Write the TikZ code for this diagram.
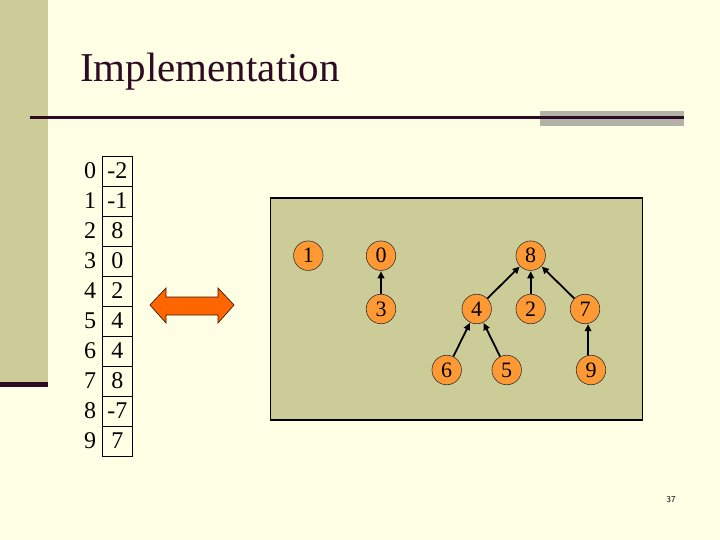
\documentclass[tikz,border=0pt]{standalone}
\usepackage{fontspec}
\setmainfont{Liberation Serif}
\usetikzlibrary{arrows.meta}
\definecolor{bgyel}{HTML}{FFFFE5}
\definecolor{side}{HTML}{CCCC99}
\definecolor{dark}{HTML}{2E0A24}
\definecolor{grayb}{HTML}{B2B2A8}
\definecolor{orangeA}{HTML}{FF6600}
\definecolor{orangeN}{HTML}{FF9933}
\tikzset{
  treenode/.style={circle,draw=black!80,line width=0.6pt,fill=orangeN,minimum size=29.5pt,inner sep=0pt,font=\fontsize{22}{22}\selectfont},
  cellbox/.style={draw=black,line width=0.8pt,minimum width=30pt,minimum height=30pt,inner sep=0pt,font=\fontsize{24}{24}\selectfont},
  idx/.style={inner sep=0pt,font=\fontsize{24}{24}\selectfont},
  parentarr/.style={-{Triangle[length=7pt,width=6.5pt]},line width=1.8pt,black,shorten >=0.5pt}
}
\begin{document}
\begin{tikzpicture}[x=1pt,y=-1pt]
\useasboundingbox (0,0) rectangle (720,540);
\fill[bgyel] (0,0) rectangle (720,540);
\fill[side] (0,0) rectangle (48,382);
\fill[dark] (0,382) rectangle (48,387);
\fill[grayb] (540,111) rectangle (684,126.5);
\fill[dark] (30,116) rectangle (684,119);
\node[anchor=base west,inner sep=0pt,text=dark,font=\fontsize{41}{41}\selectfont] (title) at (80,82) {Implementation};
% array
\foreach \i/\v in {0/-2,1/-1,2/8,3/0,4/2,5/4,6/4,7/8,8/-7,9/7}{
  \node[cellbox] (c\i) at (117.3,171+30*\i) {\v};
  \node[idx] (i\i) at (90,171+30*\i) {\i};
}
% double arrow
\filldraw[fill=orangeA,draw=black!75!orangeA,line width=0.7pt]
  (150,305) -- (166,288) -- (166,297) -- (218,297) -- (218,288) -- (234,305)
  -- (218,323) -- (218,315) -- (166,315) -- (166,323) -- cycle;
% panel
\filldraw[fill=side,draw=black,line width=1.5pt] (270.7,198) rectangle (642.7,420);
% tree nodes
\node[treenode] (n1) at (308.3,255.7) {1};
\node[treenode] (n0) at (381,255.7) {0};
\node[treenode] (n8) at (530.7,255.7) {8};
\node[treenode] (n3) at (381,309) {3};
\node[treenode] (n4) at (476.7,309) {4};
\node[treenode] (n2) at (530.7,309) {2};
\node[treenode] (n7) at (585,309) {7};
\node[treenode] (n6) at (446.7,370) {6};
\node[treenode] (n5) at (506.7,370) {5};
\node[treenode] (n9) at (591,370) {9};
\draw[parentarr] (n3) -- (n0);
\draw[parentarr] (n4) -- (n8);
\draw[parentarr] (n2) -- (n8);
\draw[parentarr] (n7) -- (n8);
\draw[parentarr] (n6) -- (n4);
\draw[parentarr] (n5) -- (n4);
\draw[parentarr] (n9.102) -- (n7.-78);
\node[font=\sffamily\fontsize{9}{9}\selectfont,inner sep=0pt] (pg) at (671,500) {37};
\end{tikzpicture}
\end{document}
